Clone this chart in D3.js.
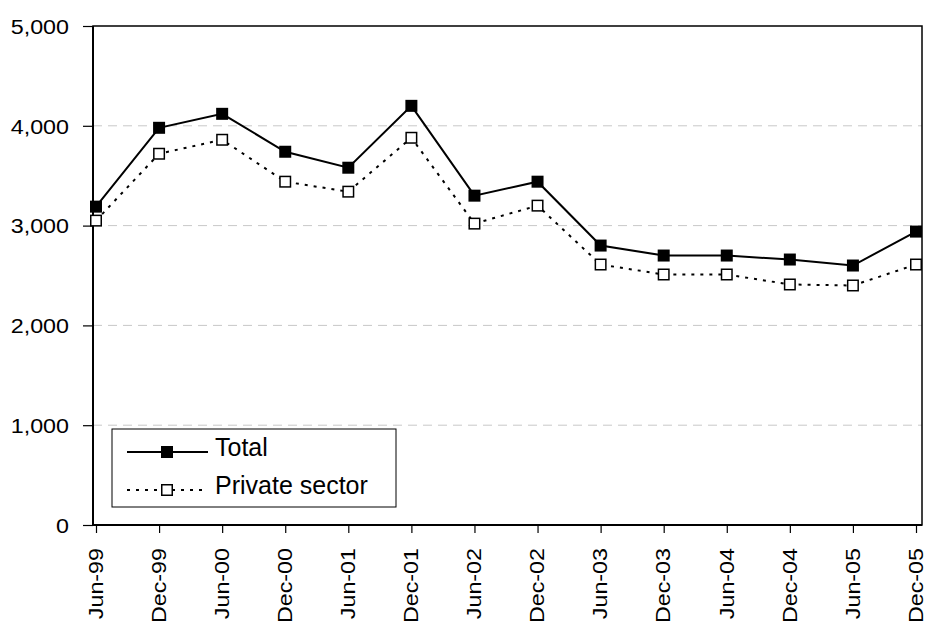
<!DOCTYPE html>
<html>
<head>
<meta charset="utf-8">
<script src="https://cdn.jsdelivr.net/npm/d3@7"></script>
<style>
    body { margin: 0; background: #fff; }
    text { font-family: "Liberation Sans", Arial, sans-serif; fill: #000; }
</style>
</head>
<body>
<svg id="chart" width="927" height="624"></svg>
<script>
const categories = ['Jun-99', 'Dec-99', 'Jun-00', 'Dec-00', 'Jun-01', 'Dec-01', 'Jun-02',
    'Dec-02', 'Jun-03', 'Dec-03', 'Jun-04', 'Dec-04', 'Jun-05', 'Dec-05'];
const totalValues = [3190, 3980, 4120, 3740, 3580, 4200, 3300, 3440, 2800, 2700, 2700, 2660, 2600, 2940];
const privateValues = [3050, 3720, 3860, 3440, 3340, 3880, 3020, 3200, 2610, 2510, 2510, 2410, 2400, 2610];
const yTicks = [0, 1000, 2000, 3000, 4000, 5000];

const margin = { top: 26, left: 93, bottom: 99, right: 5 };
const width = 927;
const height = 624;
const chartWidth = width - margin.left - margin.right;
const chartHeight = height - margin.top - margin.bottom;

// labels in the reference run a bit wider than Liberation Sans
const stretch = 1.11;

const svg = d3.select('#chart');
const g = svg.append('g')
    .attr('transform', `translate(${margin.left},${margin.top})`);

const x = d3.scalePoint()
    .domain(categories)
    .range([3, chartWidth - 6]);

const y = d3.scaleLinear()
    .domain([0, 5000])
    .range([chartHeight, 0]);

// gridlines
g.append('g')
    .selectAll('line')
    .data(yTicks.filter(d => d > 0 && d < 5000))
    .enter()
    .append('line')
    .attr('x1', 0)
    .attr('x2', chartWidth)
    .attr('y1', d => y(d))
    .attr('y2', d => y(d))
    .attr('stroke', '#c8c8c8')
    .attr('stroke-width', 1)
    .attr('stroke-dasharray', '9,6');

// frame
g.append('rect')
    .attr('x', 0)
    .attr('y', 0)
    .attr('width', chartWidth)
    .attr('height', chartHeight)
    .attr('fill', 'none')
    .attr('stroke', '#000')
    .attr('stroke-width', 1.5);

const yAxe = d3.axisLeft(y)
    .tickValues(yTicks)
    .tickSize(10)
    .tickFormat(d3.format(','));

g.append('g')
    .call(yAxe)
    .call(a => a.select('.domain').attr('stroke-width', 2).attr('d', `M0,0V${chartHeight}`))
    .call(a => a.selectAll('line').attr('stroke-width', 1.2))
    .selectAll('text')
    .style('font-size', '21px')
    .attr('x', -24 / stretch)
    .attr('dy', '0.35em')
    .attr('transform', `scale(${stretch},1)`);

const xAxe = d3.axisBottom(x)
    .tickSize(8);

g.append('g')
    .attr('transform', `translate(0,${chartHeight})`)
    .call(xAxe)
    .call(a => a.select('.domain').attr('stroke-width', 2).attr('d', `M0,0H${chartWidth}`))
    .call(a => a.selectAll('line').attr('stroke-width', 1.2))
    .selectAll('text')
    .style('font-size', '21px')
    .attr('text-anchor', 'end')
    .attr('x', -23 / stretch)
    .attr('y', 0)
    .attr('dy', '0.3em')
    .attr('transform', `rotate(-90) scale(${stretch},1)`);

const line = d3.line()
    .x((d, i) => x(categories[i]))
    .y(d => y(d));

// private sector
g.append('path')
    .datum(privateValues)
    .attr('d', line)
    .attr('fill', 'none')
    .attr('stroke', '#000')
    .attr('stroke-width', 2)
    .attr('stroke-dasharray', '3,6');

g.append('path')
    .datum(totalValues)
    .attr('d', line)
    .attr('fill', 'none')
    .attr('stroke', '#000')
    .attr('stroke-width', 2);

const ms = 12;
g.append('g')
    .selectAll('rect')
    .data(privateValues)
    .enter()
    .append('rect')
    .attr('x', (d, i) => x(categories[i]) - ms / 2 + 0.75)
    .attr('y', d => y(d) - ms / 2 + 0.75)
    .attr('width', ms - 1.5)
    .attr('height', ms - 1.5)
    .attr('fill', '#fff')
    .attr('stroke', '#000')
    .attr('stroke-width', 1.5);

g.append('g')
    .selectAll('rect')
    .data(totalValues)
    .enter()
    .append('rect')
    .attr('x', (d, i) => x(categories[i]) - ms / 2)
    .attr('y', d => y(d) - ms / 2)
    .attr('width', ms)
    .attr('height', ms)
    .attr('fill', '#000');

// legend
const legend = svg.append('g')
    .attr('transform', 'translate(112,429)');

legend.append('rect')
    .attr('width', 284)
    .attr('height', 78)
    .attr('fill', '#fff')
    .attr('stroke', '#000')
    .attr('stroke-width', 1);

const legendItems = [
    { name: 'Total', dash: null, fill: '#000', cy: 23 },
    { name: 'Private sector', dash: '3,6', fill: '#fff', cy: 61 }
];

legendItems.forEach(item => {
    const row = legend.append('g').attr('transform', `translate(0,${item.cy})`);
    row.append('line')
        .attr('x1', 15)
        .attr('x2', 96)
        .attr('stroke', '#000')
        .attr('stroke-width', 2)
        .attr('stroke-dasharray', item.dash);
    row.append('rect')
        .attr('x', 55 - ms / 2 + 0.75)
        .attr('y', -ms / 2 + 0.75)
        .attr('width', ms - 1.5)
        .attr('height', ms - 1.5)
        .attr('fill', item.fill)
        .attr('stroke', '#000')
        .attr('stroke-width', 1.5);
    row.append('text')
        .attr('x', 103)
        .attr('y', 4)
        .style('font-size', '25px')
        .text(item.name);
});
</script>
</body>
</html>
